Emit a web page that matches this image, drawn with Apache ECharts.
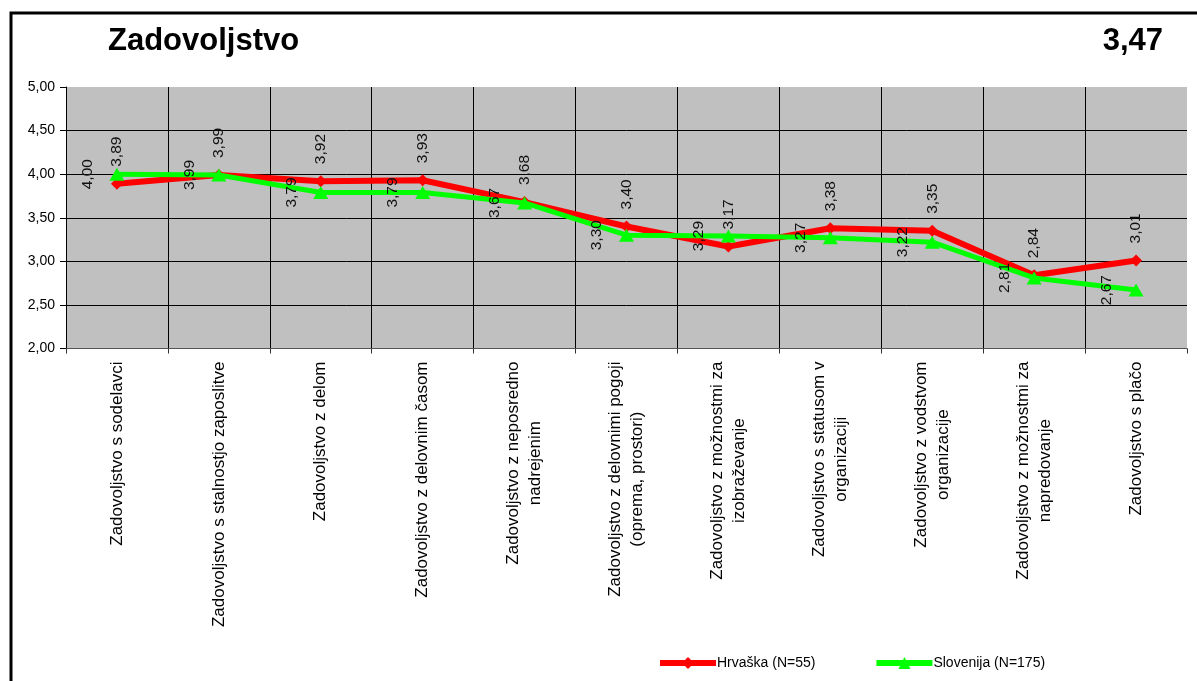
<!DOCTYPE html>
<html>
<head>
<meta charset="utf-8">
<script src="https://cdn.jsdelivr.net/npm/echarts@6/dist/echarts.min.js"></script>
<style>
  html, body { margin: 0; padding: 0; background: #ffffff; }
  #chart { width: 1197px; height: 681px; }
</style>
</head>
<body>
<div id="chart"></div>
<script>
// Satisfaction items (Slovenian survey labels)
const categories = [
  'Zadovoljstvo s sodelavci',
  'Zadovoljstvo s stalnostjo zaposlitve',
  'Zadovoljstvo z delom',
  'Zadovoljstvo z delovnim časom',
  'Zadovoljstvo z neposredno\nnadrejenim',
  'Zadovoljstvo z delovnimi pogoji\n(oprema, prostori)',
  'Zadovoljstvo z možnostmi za\nizobraževanje',
  'Zadovoljstvo s statusom v\norganizaciji',
  'Zadovoljstvo z vodstvom\norganizacije',
  'Zadovoljstvo z možnostmi za\nnapredovanje',
  'Zadovoljstvo s plačo'
];

const seriesNames = ['Hrvaška (N=55)', 'Slovenija (N=175)'];
const hrvaska = [3.89, 3.99, 3.92, 3.93, 3.68, 3.40, 3.17, 3.38, 3.35, 2.84, 3.01];
const slovenija = [4.00, 3.99, 3.79, 3.79, 3.67, 3.30, 3.29, 3.27, 3.22, 2.81, 2.67];

const titleText = 'Zadovoljstvo';
const overallScore = '3,47';
const yTicks = { min: 2, max: 5, step: 0.5 };

const FONT = '"Liberation Sans", Arial, sans-serif';
const RED = '#ff0000';
const GREEN = '#00ff00';
const fmt = v => Number(v).toFixed(2).replace('.', ',');

const chart = echarts.init(document.getElementById('chart'), null, { renderer: 'canvas' });

chart.setOption({
  backgroundColor: '#ffffff',
  animation: false,
  textStyle: { fontFamily: FONT },
  graphic: [
    {
      type: 'polyline',
      shape: { points: [[11, 681], [11, 13], [1197, 13]] },
      style: { stroke: '#000000', lineWidth: 3, fill: null }
    },
    {
      type: 'text',
      left: 108, top: 26,
      style: { text: titleText, font: 'bold 31px ' + FONT, fill: '#000000' }
    },
    {
      type: 'text',
      right: 34, top: 26,
      style: { text: overallScore, font: 'bold 31px ' + FONT, fill: '#000000' }
    }
  ],
  legend: {
    data: [
      { name: seriesNames[0], lineStyle: { width: 6, color: RED }, itemStyle: { color: RED } },
      { name: seriesNames[1], lineStyle: { width: 6, color: GREEN }, itemStyle: { color: GREEN } }
    ],
    left: 652, top: 651,
    itemWidth: 56, itemHeight: 15, itemGap: 58,
    textStyle: { fontSize: 14, color: '#000000', fontFamily: FONT, padding: [0, 0, 0, -4] }
  },
  grid: {
    left: 66, right: 10, top: 87, height: 261.5,
    show: true, backgroundColor: '#c0c0c0', borderWidth: 0
  },
  xAxis: {
    type: 'category',
    data: categories,
    boundaryGap: true,
    axisLine: { show: true, lineStyle: { color: '#555555', width: 1 } },
    axisTick: { show: true, length: 5, lineStyle: { color: '#333333' } },
    splitLine: { show: true, showMinLine: false, showMaxLine: false, lineStyle: { color: '#000000', width: 1 } },
    axisLabel: {
      interval: 0,
      rotate: 90,
      margin: 13,
      color: '#000000',
      formatter: v => v.split('\n').map(l => '{c|' + l + '}').join('\n'),
      rich: {
        c: { align: 'center', fontSize: 17, lineHeight: 22, fontFamily: FONT, color: '#000000' }
      }
    }
  },
  yAxis: {
    type: 'value',
    min: yTicks.min, max: yTicks.max, interval: yTicks.step,
    axisLine: { show: true, lineStyle: { color: '#000000', width: 1 } },
    axisTick: { show: true, length: 6, lineStyle: { color: '#000000' } },
    splitLine: { show: true, showMaxLine: false, lineStyle: { color: '#000000', width: 1 } },
    axisLabel: { margin: 11, fontSize: 14, color: '#000000', fontFamily: FONT, formatter: fmt }
  },
  series: [
    {
      name: seriesNames[0],
      type: 'line',
      data: hrvaska,
      symbol: 'diamond',
      symbolSize: 12,
      lineStyle: { color: RED, width: 6 },
      itemStyle: { color: RED },
      label: {
        show: true,
        position: 'top',
        distance: 11,
        rotate: 90,
        align: 'left',
        verticalAlign: 'middle',
        fontSize: 15.5,
        color: '#111111',
        fontFamily: FONT,
        formatter: p => fmt(p.value)
      },
      z: 2
    },
    {
      name: seriesNames[1],
      type: 'line',
      data: slovenija,
      symbol: 'triangle',
      symbolSize: [15, 13],
      lineStyle: { color: GREEN, width: 5 },
      itemStyle: { color: GREEN },
      label: {
        show: true,
        position: 'left',
        distance: 22,
        rotate: 90,
        align: 'center',
        verticalAlign: 'middle',
        fontSize: 15.5,
        color: '#111111',
        fontFamily: FONT,
        formatter: p => fmt(p.value)
      },
      z: 3
    }
  ]
});
</script>
</body>
</html>
